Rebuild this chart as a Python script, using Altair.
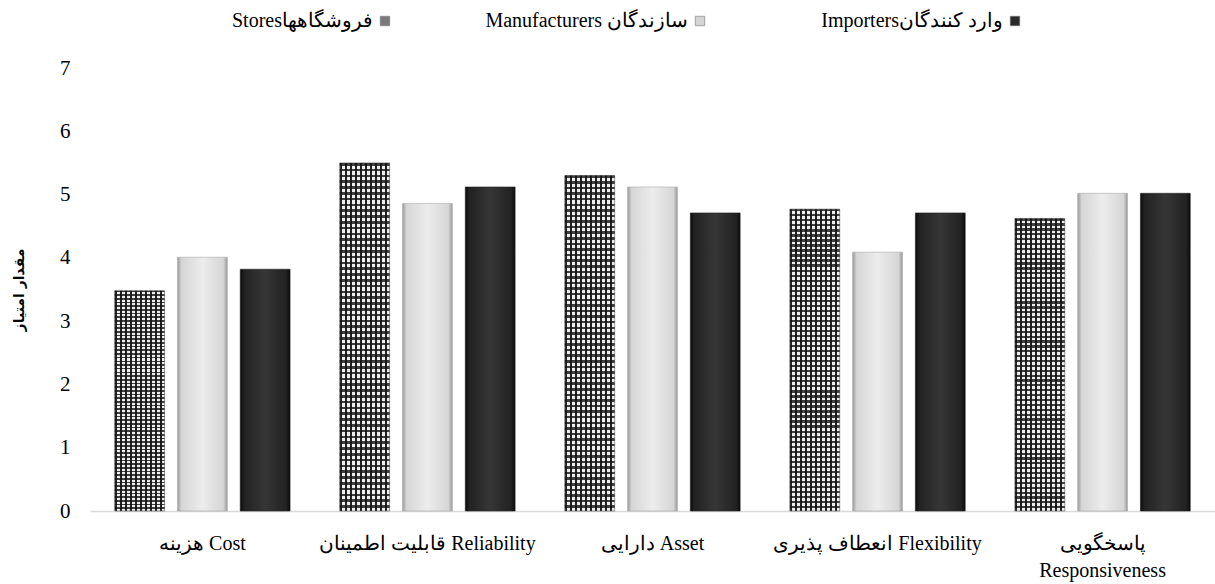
import altair as alt
import pandas as pd

categories = ["هزینه Cost", "قابلیت اطمینان Reliability", "دارایی Asset",
              "انعطاف پذیری Flexibility", "پاسخگویی Responsiveness"]
series = ["Storesفروشگاهها", "Manufacturers سازندگان", "Importersوارد کنندگان"]
stores = [3.48, 5.5, 5.3, 4.77, 4.62]
manufacturers = [4.01, 4.86, 5.12, 4.09, 5.02]
importers = [3.82, 5.12, 4.71, 4.71, 5.02]

rows = []
for name, vals in zip(series, [stores, manufacturers, importers]):
    for c, v in zip(categories, vals):
        rows.append({"category": c, "series": name, "value": v})
df = pd.DataFrame(rows)
legend_df = pd.DataFrame({"series": series})

SERIF = "Liberation Serif"


def stripe_grad(n, bg, fg, frac, horizontal=True):
    stops = []
    for i in range(n):
        a = i / n
        b = a + frac / n
        e = (i + 1) / n
        stops += [
            {"offset": a, "color": fg},
            {"offset": b, "color": fg},
            {"offset": b, "color": bg},
            {"offset": e, "color": bg},
        ]
    g = {"gradient": "linear", "x1": 0, "y1": 0, "stops": stops}
    if horizontal:
        g.update({"x2": 1, "y2": 0})
    else:
        g.update({"x2": 0, "y2": 1})
    return g


def shade_grad(edge, mid, center):
    return {"gradient": "linear", "x1": 0, "y1": 0, "x2": 1, "y2": 0,
            "stops": [{"offset": 0, "color": edge},
                      {"offset": 0.08, "color": mid},
                      {"offset": 0.5, "color": center},
                      {"offset": 0.92, "color": mid},
                      {"offset": 1, "color": edge}]}


x_enc = alt.X("category:N", sort=categories,
              scale=alt.Scale(domain=categories, paddingInner=0.221, paddingOuter=0.11),
              axis=alt.Axis(title=None, labelAngle=0, ticks=False, domainColor="#d9d9d9",
                            domainWidth=1.5, labelFont=SERIF, labelFontSize=20,
                            labelColor="black", labelPadding=22, labelLimit=400,
                            labelLineHeight=27,
                            labelExpr="indexof(datum.label, 'Responsiveness') >= 0 ? ['پاسخگویی', 'Responsiveness'] : datum.label"))
xo_enc = alt.XOffset("series:N", sort=series,
                     scale=alt.Scale(domain=series, paddingInner=0.206, paddingOuter=0))
y_enc = alt.Y("value:Q", scale=alt.Scale(domain=[0, 7], nice=False),
              axis=alt.Axis(values=list(range(8)), grid=False, domain=False, ticks=False,
                            labelFont=SERIF, labelFontSize=21, labelColor="black",
                            labelPadding=20, title="مقدار امتیاز", titleFont="DejaVu Sans",
                            titleFontSize=14, titleFontWeight="bold", titleColor="black",
                            titlePadding=33))

base = alt.Chart(df).encode(x=x_enc, xOffset=xo_enc, y=y_enc)

stores_bg = base.transform_filter(alt.datum.series == series[0]).mark_bar(
    fill=stripe_grad(10, "#eeeeee", "#222222", 0.5, True), stroke="#555", strokeWidth=0.6)
stores_h = base.transform_filter(alt.datum.series == series[0]).mark_bar(
    fill=stripe_grad(60, "rgba(0,0,0,0)", "rgba(20,20,20,0.8)", 0.45, False))
manu = base.transform_filter(alt.datum.series == series[1]).mark_bar(
    fill=shade_grad("#9a9a9a", "#d6d6d6", "#ececec"), stroke="#aaa", strokeWidth=0.6)
imp = base.transform_filter(alt.datum.series == series[2]).mark_bar(
    fill=shade_grad("#0a0a0a", "#222222", "#363636"), stroke="#222", strokeWidth=0.6)

bars = alt.layer(stores_bg, stores_h, manu, imp)

leg_x = alt.X("series:N", sort=series,
              scale=alt.Scale(type="point", domain=series, range=[295, 925], padding=0),
              axis=None)
leg_color = alt.Color("series:N", scale=alt.Scale(domain=series, range=["#7a7a7a", "#d4d4d4", "#2a2a2a"]),
                      legend=None)
leg_sq = alt.Chart(legend_df).mark_square(size=90, stroke="#777", strokeWidth=0.6, opacity=1).encode(
    x=leg_x, y=alt.value(-47), color=leg_color)
leg_tx = alt.Chart(legend_df).mark_text(align="right", baseline="middle", dx=-12, font=SERIF,
                                        fontSize=20, color="black").encode(
    x=leg_x, y=alt.value(-47), text="series:N")
legend = alt.layer(leg_sq, leg_tx)

chart = alt.layer(bars, legend).resolve_scale(x="independent").properties(
    width=1125, height=443,
    background="white",
    autosize=alt.AutoSizeParams(type="none"),
    padding={"left": 90, "top": 68, "right": 0, "bottom": 73},
).configure_view(strokeWidth=0, stroke="transparent")

chart.save("out.html", embed_options={"renderer": "svg", "actions": False})
